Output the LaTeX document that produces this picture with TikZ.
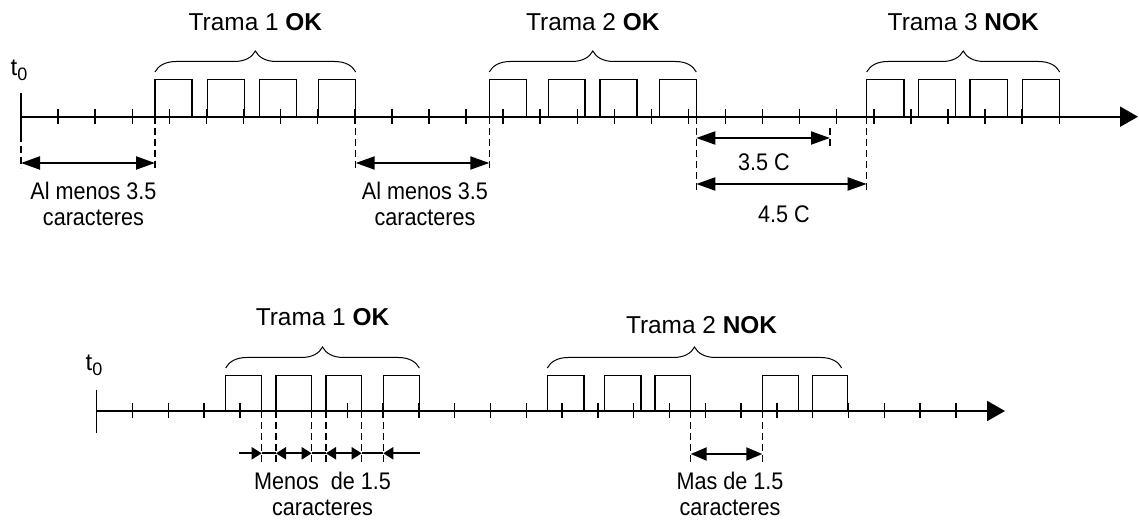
\documentclass[tikz,border=0pt]{standalone}
\usepackage{fontspec}
\setmainfont{Liberation Sans}
\newfontfamily\condfont[FakeStretch=0.9]{Liberation Sans}
\usetikzlibrary{arrows.meta,decorations.pathreplacing}
\begin{document}
\begin{tikzpicture}[x=0.5pt,y=-0.5pt,
  axisline/.style={line width=1pt,-{Triangle[length=9pt,width=10pt]}},
  tickmark/.style={line width=0.7pt},
  bitbox/.style={line width=0.6pt},
  guide/.style={line width=0.6pt,dash pattern=on 3.5pt off 2pt},
  span/.style={line width=1pt,{Triangle[length=9.5pt,width=6.5pt]}-{Triangle[length=9.5pt,width=6.5pt]}},
  midspan/.style={line width=1pt,{Triangle[length=8pt,width=6.5pt]}-{Triangle[length=8pt,width=6.5pt]}},
  tinyhead/.style={line width=1pt,-{Triangle[length=5pt,width=6pt]}},
  tinyspan/.style={line width=1pt,{Triangle[length=5pt,width=6pt]}-{Triangle[length=5pt,width=6pt]}},
  framebrace/.style={decorate,decoration={brace,amplitude=10.5pt},line width=0.5pt},
  title/.style={font=\fontsize{12.2}{14}\selectfont,inner sep=0pt},
  label/.style={font=\condfont\fontsize{12}{12.7}\selectfont,align=center,inner sep=0pt},
  tzero/.style={font=\fontsize{12}{14}\selectfont,inner sep=0pt},
]
\useasboundingbox (0,0) rectangle (1139,522);

% ================= TOP TIMELINE =================
\coordinate (Ta) at (21,116.7);
\coordinate (Tb) at (1138,116.7);
\draw[axisline] (Ta) -- (Tb);
\foreach \k in {1,...,28} \draw[tickmark] ({21+37.08*\k},109) -- ++(0,15);
\draw[tickmark] (21,93) -- (21,135);
\draw[guide] (21,135) -- (21,168);
\node[tzero] (t0a) at (19,70) {t\raisebox{-0.4ex}{\fontsize{9}{9}\selectfont 0}};

% frames
\foreach \a/\b in {155/192,207.7/244.7,259.7/296.7,318.3/355.7,
                   489.3/526.3,548.3/585,600/637,659.3/696.3,
                   866.7/904,918.7/955.3,970/1007.7,1022.7/1059.7}
  \draw[bitbox] (\a,116.7) -- (\a,79.3) -- (\b,79.3) -- (\b,116.7);

\draw[framebrace] (155,72) -- (355.7,72);
\draw[framebrace] (489.3,72) -- (696.3,72);
\draw[framebrace] (866.7,72) -- (1059.7,72);
\node[title] (f1) at (255.4,22.5) {Trama 1 \textbf{OK}};
\node[title] (f2) at (592.8,22.5) {Trama 2 \textbf{OK}};
\node[title] (f3) at (963.2,22.5) {Trama 3 \textbf{NOK}};

% guides
\draw[guide] (155,116.7) -- (155,168);
\draw[guide] (355.7,116.7) -- (355.7,168);
\draw[guide] (489.3,116.7) -- (489.3,168);
\draw[guide] (696.3,116.7) -- (696.3,190);
\draw[guide] (830,128) -- (830,150);
\draw[guide] (866.7,116.7) -- (866.7,190);

% spans
\coordinate (s1a) at (21,163);    \coordinate (s1b) at (155,163);
\coordinate (s2a) at (355.7,163); \coordinate (s2b) at (489.3,163);
\coordinate (s3a) at (696.3,138); \coordinate (s3b) at (830,138);
\coordinate (s4a) at (696.3,184); \coordinate (s4b) at (866.7,184);
\draw[span] (s1a) -- (s1b);
\draw[span] (s2a) -- (s2b);
\draw[span] (s3a) -- (s3b);
\draw[span] (s4a) -- (s4b);

\node[label] (l1) at (93.4,204) {Al menos 3.5\\caracteres};
\node[label] (l2) at (425,204) {Al menos 3.5\\caracteres};
\node[label] (l3) at (764,162.5) {3.5 C};
\node[label] (l4) at (784,214) {4.5 C};

% ================= BOTTOM TIMELINE =================
\coordinate (Ba) at (96.7,411);
\coordinate (Bb) at (1005,411);
\draw[axisline] (Ba) -- (Bb);
\foreach \k in {1,...,24} \draw[tickmark] ({96.7+35.8*\k},403.5) -- ++(0,15);
\draw[tickmark] (96.7,390) -- (96.7,433);
\node[tzero] (t0b) at (94,365) {t\raisebox{-0.4ex}{\fontsize{9}{9}\selectfont 0}};

\foreach \a/\b in {225.7/261.7,276/311.7,326/361.7,383.3/419.3,
                   547.3/584,604.3/641,655/690.7,762.3/798.3,812.7/847.7}
  \draw[bitbox] (\a,411) -- (\a,375.7) -- (\b,375.7) -- (\b,411);

\draw[framebrace] (225.7,368) -- (419.3,368);
\draw[framebrace] (547.3,368) -- (841.7,368);
\node[title] (g1) at (322.5,317) {Trama 1 \textbf{OK}};
\node[title] (g2) at (701.5,325.5) {Trama 2 \textbf{NOK}};

\foreach \x in {261.7,276,311.7,326,361.7,383.3,690.7,762.3}
  \draw[guide] (\x,411) -- (\x,462.7);

\coordinate (m0) at (239.3,453.3);
\coordinate (m1) at (261.7,453.3);
\coordinate (m2) at (276,453.3);
\coordinate (m3) at (311.7,453.3);
\coordinate (m4) at (326,453.3);
\coordinate (m5) at (361.7,453.3);
\coordinate (m6) at (383.3,453.3);
\coordinate (m7) at (420,453.3);
\draw[line width=1pt] (m1) -- (m2) (m3) -- (m4) (m5) -- (m6);
\draw[tinyhead] (m0) -- (m1);
\draw[tinyspan] (m2) -- (m3);
\draw[tinyspan] (m4) -- (m5);
\draw[tinyhead] (m7) -- (m6);

\coordinate (n1) at (690.7,454);
\coordinate (n2) at (762.3,454);
\draw[midspan] (n1) -- (n2);

\node[label] (k1) at (322.5,494) {Menos\ \ de 1.5\\caracteres};
\node[label] (k2) at (730,494) {Mas de 1.5\\caracteres};
\end{tikzpicture}
\end{document}
